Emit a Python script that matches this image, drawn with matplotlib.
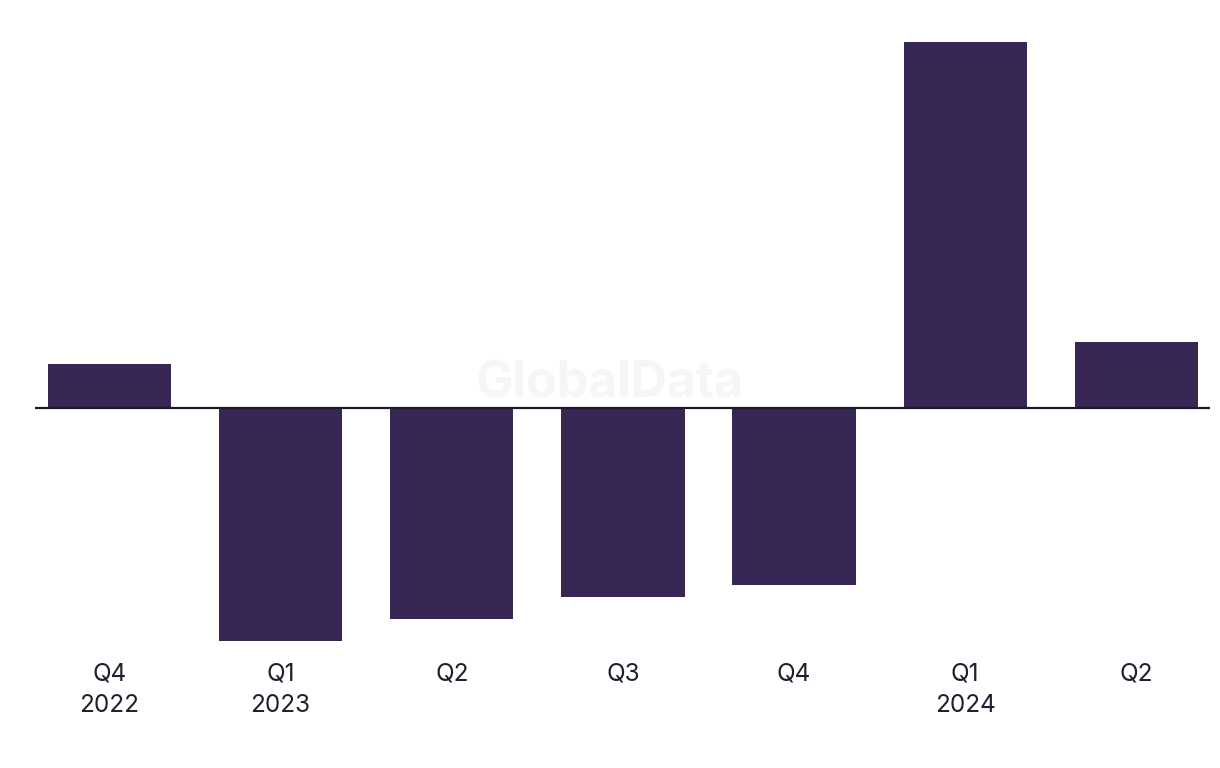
import matplotlib
matplotlib.use("Agg")
import matplotlib.pyplot as plt
import numpy as np

plt.rcParams['font.family'] = ['Inter', 'DejaVu Sans']

quarters = ["Q4\n2022", "Q1\n2023", "Q2", "Q3", "Q4", "Q1\n2024", "Q2"]
values = [44, -233, -211, -189, -177, 366, 66]

bar_color = '#372554'
line_color = '#1a1a2a'
text_color = '#1f1f2e'

fig = plt.figure(figsize=(12.2, 7.68), dpi=100)
ax = fig.add_axes([35/1220, 1-650/768, (1210-35)/1220, 620/768])

x = np.arange(len(quarters))
ax.bar(x, values, width=0.72, color=bar_color, zorder=2)
ax.axhline(0, color=line_color, linewidth=1.6, zorder=3)

ax.set_xlim(-0.435, 6.43)
ax.set_ylim(-242, 378)
ax.set_xticks(x)
ax.set_xticklabels(quarters, fontsize=17.5, color=text_color, linespacing=1.45)
ax.tick_params(axis='x', length=0, pad=9)
ax.set_yticks([])
for s in ax.spines.values():
  s.set_visible(False)

# watermark
ax.text(0.5, 0.5, "GlobalData", transform=fig.transFigure, ha='center', va='center',
        fontsize=36, fontweight='bold', color='#f6f6f6', zorder=1)

fig.savefig("out.png", dpi=100, facecolor='white')
